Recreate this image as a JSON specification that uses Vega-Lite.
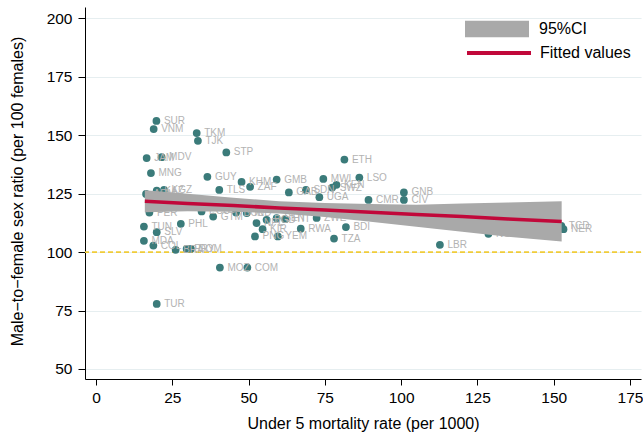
{
  "$schema": "https://vega.github.io/schema/vega-lite/v6.json",
  "width": 556,
  "height": 372,
  "autosize": {"type": "none"},
  "padding": {"left": 85, "top": 7, "right": 2, "bottom": 58},
  "background": "white",
  "config": {
    "view": {"stroke": null},
    "font": "Liberation Sans",
    "axis": {"labelFont": "Liberation Sans", "titleFont": "Liberation Sans", "labelColor": "#000", "titleColor": "#000", "tickColor": "#000", "domainColor": "#000", "titleFontWeight": "normal"}
  },
  "datasets": {
    "pts": [
      {"code": "SUR", "u5mr": 19.8, "sr": 156.1},
      {"code": "VNM", "u5mr": 18.9, "sr": 152.6},
      {"code": "TKM", "u5mr": 33.0, "sr": 150.9},
      {"code": "TJK", "u5mr": 33.4, "sr": 147.6},
      {"code": "STP", "u5mr": 42.7, "sr": 142.6},
      {"code": "JAM", "u5mr": 16.6, "sr": 140.2},
      {"code": "MDV", "u5mr": 21.5, "sr": 140.6},
      {"code": "ETH", "u5mr": 81.4, "sr": 139.6},
      {"code": "MNG", "u5mr": 18.0, "sr": 133.8},
      {"code": "GUY", "u5mr": 36.5, "sr": 132.2},
      {"code": "KHM", "u5mr": 47.7, "sr": 130.0},
      {"code": "ZAF", "u5mr": 50.5, "sr": 127.9},
      {"code": "GMB", "u5mr": 59.2, "sr": 131.0},
      {"code": "LSO", "u5mr": 86.3, "sr": 131.9},
      {"code": "MWI", "u5mr": 74.5, "sr": 131.3},
      {"code": "SWZ", "u5mr": 77.4, "sr": 127.6},
      {"code": "KEN", "u5mr": 78.8, "sr": 128.8},
      {"code": "TLS", "u5mr": 40.4, "sr": 126.6},
      {"code": "KAZ", "u5mr": 19.9, "sr": 126.3},
      {"code": "KGZ", "u5mr": 22.3, "sr": 126.6},
      {"code": "GAB", "u5mr": 63.2, "sr": 125.5},
      {"code": "SDN", "u5mr": 68.8, "sr": 126.6},
      {"code": "UGA", "u5mr": 73.2, "sr": 123.5},
      {"code": "CMR", "u5mr": 89.3, "sr": 122.3},
      {"code": "GNB", "u5mr": 100.9, "sr": 125.5},
      {"code": "CIV", "u5mr": 100.9, "sr": 122.3},
      {"code": "ARM", "u5mr": 16.4, "sr": 124.9},
      {"code": "PER", "u5mr": 17.5, "sr": 116.9},
      {"code": "TUN", "u5mr": 15.7, "sr": 110.9},
      {"code": "PHL", "u5mr": 27.8, "sr": 112.1},
      {"code": "SLV", "u5mr": 19.9, "sr": 108.5},
      {"code": "MDA", "u5mr": 15.7, "sr": 104.8},
      {"code": "COL", "u5mr": 18.8, "sr": 102.8},
      {"code": "BRA", "u5mr": 26.1, "sr": 101.0},
      {"code": "PRY", "u5mr": 29.7, "sr": 101.4},
      {"code": "DOM", "u5mr": 31.1, "sr": 101.4},
      {"code": "ECU", "u5mr": 34.6, "sr": 117.4},
      {"code": "GTM", "u5mr": 38.4, "sr": 115.2},
      {"code": "BOL", "u5mr": 45.9, "sr": 116.9},
      {"code": "IND", "u5mr": 49.4, "sr": 116.7},
      {"code": "NPL", "u5mr": 52.6, "sr": 112.4},
      {"code": "BGD", "u5mr": 55.9, "sr": 113.8},
      {"code": "KIR", "u5mr": 54.6, "sr": 109.8},
      {"code": "PNG", "u5mr": 52.1, "sr": 106.7},
      {"code": "YEM", "u5mr": 59.6, "sr": 106.7},
      {"code": "SEN", "u5mr": 59.2, "sr": 114.5},
      {"code": "HTI", "u5mr": 62.0, "sr": 114.1},
      {"code": "RWA", "u5mr": 67.1, "sr": 110.0},
      {"code": "ZWE", "u5mr": 72.3, "sr": 114.6},
      {"code": "BDI", "u5mr": 81.9, "sr": 110.7},
      {"code": "TZA", "u5mr": 78.0, "sr": 105.8},
      {"code": "LBR", "u5mr": 112.7, "sr": 103.1},
      {"code": "NGA", "u5mr": 128.6, "sr": 107.8},
      {"code": "TCD", "u5mr": 152.5, "sr": 111.2},
      {"code": "NER", "u5mr": 153.2, "sr": 109.8},
      {"code": "MOZ", "u5mr": 40.6, "sr": 93.4},
      {"code": "COM", "u5mr": 49.6, "sr": 93.4},
      {"code": "TUR", "u5mr": 19.9, "sr": 77.8}
    ],
    "fit": [
      {"u5mr": 16, "fit": 121.7, "lo": 117.0, "hi": 126.4},
      {"u5mr": 30, "fit": 120.8, "lo": 117.5, "hi": 125.0},
      {"u5mr": 45, "fit": 119.9, "lo": 117.3, "hi": 123.2},
      {"u5mr": 60, "fit": 118.9, "lo": 116.5, "hi": 121.8},
      {"u5mr": 75, "fit": 118.0, "lo": 115.0, "hi": 121.0},
      {"u5mr": 90, "fit": 117.0, "lo": 113.0, "hi": 120.6},
      {"u5mr": 105, "fit": 116.1, "lo": 110.8, "hi": 120.3},
      {"u5mr": 120, "fit": 115.2, "lo": 108.7, "hi": 120.8},
      {"u5mr": 135, "fit": 114.2, "lo": 106.6, "hi": 121.2},
      {"u5mr": 152.6, "fit": 113.1, "lo": 104.5, "hi": 121.7}
    ]
  },
  "layer": [
    {
      "data": {"values": [{"ref": 100}]},
      "mark": {"type": "rule", "color": "#f0cc3a", "strokeWidth": 1.8, "strokeDash": [5, 3]},
      "encoding": {"y": {"field": "ref", "type": "quantitative"}}
    },
    {
      "data": {"name": "pts"},
      "mark": {"type": "circle", "size": 60, "opacity": 1, "color": "#3b7b7a"},
      "encoding": {
        "x": {"field": "u5mr", "type": "quantitative", "scale": {"domain": [-3.605, 178.6], "nice": false, "zero": false},
          "axis": {"title": "Under 5 mortality rate (per 1000)", "values": [0, 25, 50, 75, 100, 125, 150, 175], "grid": false, "labelFontSize": 15.5, "titleFontSize": 16, "tickSize": 6, "labelPadding": 5, "titlePadding": 10, "domainWidth": 1, "tickWidth": 1}},
        "y": {"field": "sr", "type": "quantitative", "scale": {"domain": [45.72, 204.83], "nice": false, "zero": false},
          "axis": {"title": "Male−to−female sex ratio (per 100 females)", "values": [50, 75, 100, 125, 150, 175, 200], "grid": true, "gridColor": "#e6eef0", "gridWidth": 1.2, "labelFontSize": 15.5, "titleFontSize": 16, "tickSize": 7, "labelPadding": 6, "titleX": -68, "titleY": 184, "titleAlign": "center", "titleBaseline": "middle", "domainWidth": 1, "tickWidth": 1}}
      }
    },
    {
      "data": {"name": "pts"},
      "mark": {"type": "text", "align": "left", "baseline": "middle", "dx": 7.5, "fontSize": 10, "color": "#b3b3b3", "font": "Liberation Sans"},
      "encoding": {
        "x": {"field": "u5mr", "type": "quantitative"},
        "y": {"field": "sr", "type": "quantitative"},
        "text": {"field": "code"}
      }
    },
    {
      "data": {"name": "fit"},
      "mark": {"type": "area", "opacity": 1},
      "encoding": {
        "x": {"field": "u5mr", "type": "quantitative"},
        "y": {"field": "lo", "type": "quantitative"},
        "y2": {"field": "hi"},
        "fill": {"datum": "95%CI", "type": "nominal", "scale": {"domain": ["95%CI"], "range": ["#a9a9a9"]},
          "legend": {"title": null, "orient": "none", "legendX": 380, "legendY": -10, "labelFontSize": 16, "labelFont": "Liberation Sans", "labelColor": "#000", "symbolSize": 4096, "symbolType": "M-1,-0.26L1,-0.26L1,0.26L-1,0.26Z", "symbolStrokeWidth": 0, "symbolOpacity": 1, "labelOffset": 10}}
      }
    },
    {
      "data": {"name": "fit"},
      "mark": {"type": "line", "strokeWidth": 3.5},
      "encoding": {
        "x": {"field": "u5mr", "type": "quantitative"},
        "y": {"field": "fit", "type": "quantitative"},
        "stroke": {"datum": "Fitted values", "type": "nominal", "scale": {"domain": ["Fitted values"], "range": ["#c1083a"]},
          "legend": {"title": null, "orient": "none", "legendX": 380, "legendY": 12, "labelFontSize": 16, "labelFont": "Liberation Sans", "labelColor": "#000", "symbolSize": 4096, "symbolType": "stroke", "symbolStrokeWidth": 4, "labelOffset": 7}}
      }
    }
  ]
}
